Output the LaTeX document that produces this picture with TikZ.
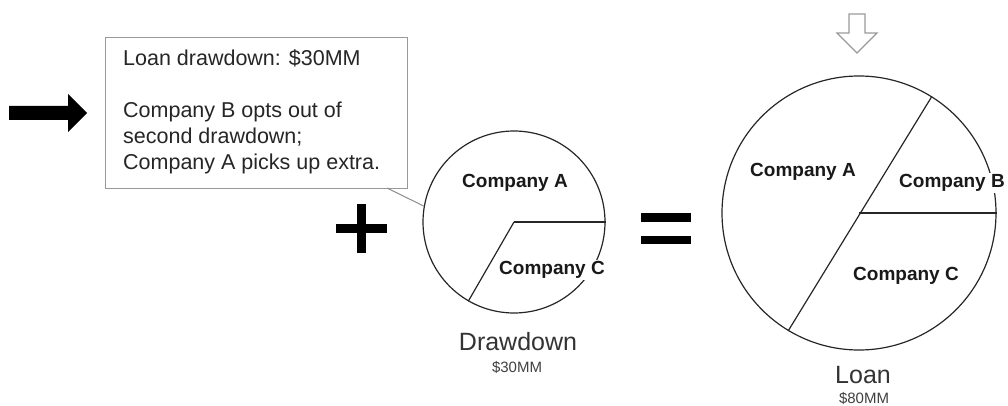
\documentclass[tikz,border=0pt]{standalone}
\usepackage{fontspec}
\setmainfont{Liberation Sans}
\begin{document}
\begin{tikzpicture}[x=1pt,y=-1pt,
  bodytext/.style={anchor=base west, inner sep=0pt, font=\fontsize{21.5}{26}\selectfont, text=black!85},
  lbl/.style={font=\fontsize{19}{22}\selectfont\bfseries, fill=white, inner sep=1pt, text=black!90},
  pie/.style={circle, draw=black!85, line width=1.2pt, inner sep=0pt},
  cut/.style={draw=black!85, line width=1.2pt},
  title/.style={font=\fontsize{25}{28}\selectfont, text=black!80, inner sep=0pt},
  amount/.style={font=\fontsize{15}{17}\selectfont, text=black!75, inner sep=0pt},
  symbol/.style={fill=black, draw=none}]
\useasboundingbox (0,0) rectangle (1008,406);

% left arrow
\fill[black] (9,106) -- (68,106) -- (68,94) -- (87,113) -- (68,132) -- (68,120) -- (9,120) -- cycle;

% note box
\node[draw=black!40, line width=1.2pt, fill=white, minimum width=302pt, minimum height=151pt, anchor=north west, inner sep=0pt] (note) at (105,37) {};
\node[bodytext] (l1) at (123,66) {Loan drawdown: \$30MM};
\node[bodytext] (l2) at (123,118) {Company B opts out of};
\node[bodytext] (l3) at (123,144) {second drawdown;};
\node[bodytext] (l4) at (123,170) {Company A picks up extra.};

% small pie
\node[pie, minimum size=182pt] (small) at (514,222) {};
\draw[cut] (small.center) -- (small.0);
\draw[cut] (small.center) -- (small.240);
\coordinate (notefoot) at (387,188);
\draw[black!45, line width=1pt] (notefoot) -- (small.170);
\node[lbl] (sA) at (515,183) {Company A};
\node[lbl] (sC) at (552,270) {Company C};
\node[title] (dd) at (518,342) {Drawdown};
\node[amount] (dda) at (517,367) {\$30MM};

% plus
\fill[black] (357,204) rectangle (366,253);
\fill[black] (336,224) rectangle (387,233);

% equals
\fill[black] (641,213) rectangle (691,222);
\fill[black] (641,236) rectangle (691,244);

% big pie
\node[pie, minimum size=274pt] (big) at (859,213) {};
\draw[cut] (big.center) -- (big.0);
\draw[cut] (big.58) -- (big.239);
\node[lbl] (bA) at (803,172) {Company A};
\node[lbl] (bB) at (952,183) {Company B};
\node[lbl] (bC) at (906,276) {Company C};
\node[title] (ln) at (863,375) {Loan};
\node[amount] (lna) at (864,398) {\$80MM};

% hollow arrow
\draw[black!40, line width=1.2pt, line join=miter] (849,14) -- (865,14) -- (865,33) -- (877,33) -- (857,53) -- (837,33) -- (849,33) -- cycle;
\end{tikzpicture}
\end{document}
